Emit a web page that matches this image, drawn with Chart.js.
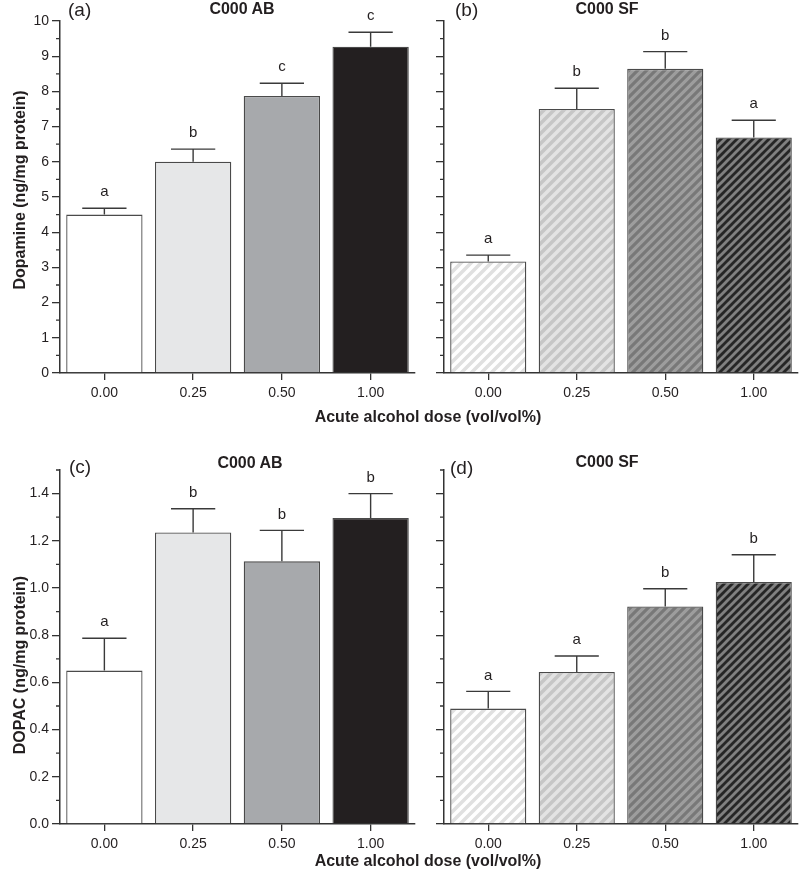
<!DOCTYPE html>
<html>
<head>
<meta charset="utf-8">
<script src="https://cdn.jsdelivr.net/npm/chart.js@4.4.1/dist/chart.umd.min.js"></script>
<style>
  body { margin: 0; background: #fff; }
  #wrap { position: relative; width: 800px; height: 873px; font-family: "Liberation Sans", Arial, sans-serif; color: #231f20; }
  canvas { position: absolute; }
  .t { position: absolute; white-space: nowrap; line-height: 1; }
  .pl { font-size: 19px; }
  .hd { font-weight: bold; font-size: 16px; transform: translate(-50%, -50%); }
  .yt { font-weight: bold; font-size: 16px; transform: translate(-50%, -50%) rotate(-90deg); }
</style>
</head>
<body>
<div id="wrap">
  <canvas id="pa" width="420" height="410" style="left:0;top:0"></canvas>
  <canvas id="pb" width="416" height="410" style="left:384px;top:0"></canvas>
  <canvas id="pc" width="420" height="420" style="left:0;top:440px"></canvas>
  <canvas id="pd" width="416" height="420" style="left:384px;top:440px"></canvas>

  <div class="t pl" style="left:68px;top:0">(a)</div>
  <div class="t hd" style="left:242px;top:9px">C000 AB</div>
  <div class="t pl" style="left:455px;top:0">(b)</div>
  <div class="t hd" style="left:607px;top:9px">C000 SF</div>
  <div class="t pl" style="left:69px;top:457px">(c)</div>
  <div class="t hd" style="left:250px;top:463px">C000 AB</div>
  <div class="t pl" style="left:450px;top:458px">(d)</div>
  <div class="t hd" style="left:607px;top:462px">C000 SF</div>

  <div class="t hd" style="left:428px;top:417px">Acute alcohol dose (vol/vol%)</div>
  <div class="t hd" style="left:428px;top:861px">Acute alcohol dose (vol/vol%)</div>
  <div class="t yt" style="left:20px;top:190px">Dopamine (ng/mg protein)</div>
  <div class="t yt" style="left:20px;top:665px">DOPAC (ng/mg protein)</div>
</div>

<script>
// doses (x categories)
const doses = ['0.00', '0.25', '0.50', '1.00'];

// dopamine, C000 AB / C000 SF
const dopAB = [4.50, 6.00, 7.87, 9.27];
const dopABse = [0.18, 0.36, 0.36, 0.41];
const dopABlet = ['a', 'b', 'c', 'c'];

const dopSF = [3.17, 7.50, 8.64, 6.69];
const dopSFse = [0.18, 0.59, 0.49, 0.49];
const dopSFlet = ['a', 'b', 'b', 'a'];

// DOPAC, C000 AB / C000 SF
const dopacAB = [0.65, 1.235, 1.113, 1.297];
const dopacABse = [0.137, 0.101, 0.131, 0.103];
const dopacABlet = ['a', 'b', 'b', 'b'];

const dopacSF = [0.489, 0.644, 0.922, 1.025];
const dopacSFse = [0.073, 0.068, 0.075, 0.116];
const dopacSFlet = ['a', 'a', 'b', 'b'];

const INK = '#333';
const FONT = '"Liberation Sans", Arial, sans-serif';

// diagonal stripe fill for the SF bars
function stripes(bg, fg, size) {
  const c = document.createElement('canvas');
  c.width = c.height = size;
  const g = c.getContext('2d');
  g.fillStyle = bg;
  g.fillRect(0, 0, size, size);
  g.strokeStyle = fg;
  g.lineWidth = size / (2 * Math.SQRT2);
  g.beginPath();
  g.moveTo(-size, size); g.lineTo(size, -size);
  g.moveTo(0, size); g.lineTo(size, 0);
  g.moveTo(0, 2 * size); g.lineTo(2 * size, 0);
  g.stroke();
  return g.createPattern(c, 'repeat');
}

const solidFills = ['#ffffff', '#e6e7e8', '#a7a9ac', '#231f20'];
const stripeFills = [
  stripes('#ffffff', '#e0e0e0', 10),
  stripes('#e3e3e3', '#c6c6c6', 10),
  stripes('#9d9d9d', '#787878', 9),
  stripes('#262626', '#808080', 8)
];

// error bars + significance letters, plus minor y ticks
const extras = {
  id: 'extras',
  afterDatasetsDraw(chart, args, opts) {
    const { ctx } = chart;
    const y = chart.scales.y;
    const vals = chart.data.datasets[0].data;
    const meta = chart.getDatasetMeta(0);
    ctx.save();
    ctx.strokeStyle = '#3a3a3a';
    ctx.lineWidth = 1.4;
    ctx.fillStyle = '#231f20';
    ctx.font = '15px ' + FONT;
    ctx.textAlign = 'center';
    ctx.textBaseline = 'middle';
    meta.data.forEach((bar, i) => {
      const top = y.getPixelForValue(vals[i] + opts.se[i]);
      const half = bar.width * 0.29;
      ctx.beginPath();
      ctx.moveTo(bar.x, bar.y);
      ctx.lineTo(bar.x, top);
      ctx.moveTo(bar.x - half, top);
      ctx.lineTo(bar.x + half, top);
      ctx.stroke();
      ctx.fillText(opts.letters[i], bar.x, top - 16);
    });
    // minor ticks
    const n = Math.round(y.max / opts.minor);
    ctx.strokeStyle = INK;
    ctx.lineWidth = 1.3;
    ctx.beginPath();
    for (let k = 1; k <= n; k++) {
      if (k % 2 === 0) continue;
      const py = y.getPixelForValue(k * opts.minor);
      ctx.moveTo(y.right - 4, py);
      ctx.lineTo(y.right, py);
    }
    ctx.stroke();
    ctx.restore();
  }
};

function panel(id, values, se, letters, fills, yMax, step, decimals, showLabels, padRight, padTop, xHeight) {
  return new Chart(document.getElementById(id), {
    type: 'bar',
    data: {
      labels: doses,
      datasets: [{
        data: values,
        backgroundColor: fills,
        borderColor: '#4a4a4a',
        borderWidth: 1.3,
        borderSkipped: 'bottom',
        categoryPercentage: 1,
        barPercentage: 0.86
      }]
    },
    options: {
      responsive: false,
      animation: false,
      layout: { padding: { top: padTop, right: padRight, left: 0, bottom: 0 } },
      plugins: {
        legend: { display: false },
        tooltip: { enabled: false },
        extras: { se: se, letters: letters, minor: step / 2 }
      },
      scales: {
        x: {
          grid: { offset: false, drawOnChartArea: false, tickLength: 7, color: INK, lineWidth: 1.3 },
          border: { display: true, color: INK, width: 1.5 },
          ticks: { color: '#231f20', font: { family: FONT, size: 14 }, padding: 5, maxRotation: 0 },
          afterFit: s => { s.height = xHeight; }
        },
        y: {
          min: 0,
          max: yMax,
          grid: { drawOnChartArea: false, tickLength: 8, color: INK, lineWidth: 1.3 },
          border: { display: true, color: INK, width: 1.5 },
          ticks: {
            stepSize: step,
            includeBounds: false,
            color: '#231f20',
            font: { family: FONT, size: 14 },
            padding: 3,
            callback: v => showLabels ? v.toFixed(decimals) : ''
          },
          afterFit: s => { s.width = 60; }
        }
      }
    },
    plugins: [extras]
  });
}

panel('pa', dopAB, dopABse, dopABlet, solidFills, 10, 1, 0, true, 5, 21, 37);
panel('pb', dopSF, dopSFse, dopSFlet, stripeFills, 10, 1, 0, false, 2, 21, 37);
panel('pc', dopacAB, dopacABse, dopacABlet, solidFills, 1.5, 0.2, 1, true, 5, 30, 36);
panel('pd', dopacSF, dopacSFse, dopacSFlet, stripeFills, 1.5, 0.2, 1, false, 2, 30, 36);
</script>
</body>
</html>
